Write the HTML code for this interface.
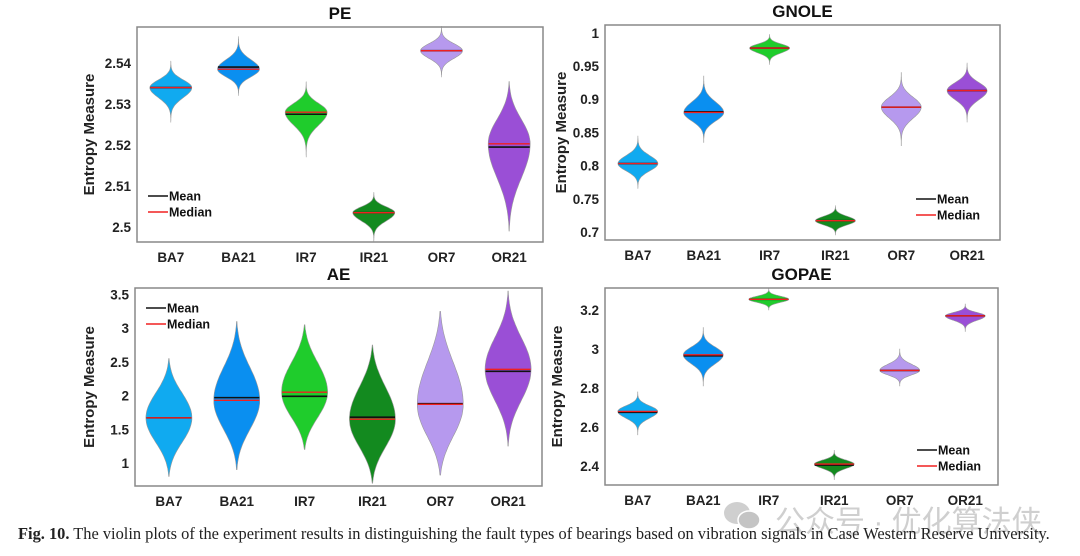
<!DOCTYPE html>
<html><head><meta charset="utf-8">
<style>
body{margin:0;background:#fff;width:1080px;height:556px;overflow:hidden;font-family:"Liberation Sans",sans-serif}
svg{position:absolute;left:0;top:0}
.cap{position:absolute;left:18px;top:524px;font-family:"Liberation Serif",serif;font-size:16.4px;color:#222;white-space:nowrap}
.wm{position:absolute;left:775px;top:497px;font-family:"Liberation Sans","Noto Sans CJK SC",sans-serif;font-size:30px;color:#cfcfcf;white-space:nowrap}
.wmi{position:absolute;left:722px;top:500px;width:40px;height:32px}
</style></head><body>
<svg id="chart" width="1080" height="556"></svg>
<svg class="wmi" viewBox="0 0 40 32"><ellipse cx="15" cy="13" rx="13" ry="11" fill="#cfcfcf"/><ellipse cx="27" cy="20" rx="11" ry="9" fill="#c4c4c4" stroke="#fff" stroke-width="1.5"/></svg>
<div class="wm">公众号 · 优化算法侠</div>
<div class="cap"><b>Fig. 10.</b> The violin plots of the experiment results in distinguishing the fault types of bearings based on vibration signals in Case Western Reserve University.</div>
<script>
const categories = ["BA7","BA21","IR7","IR21","OR7","OR21"];
const colors = ["#10aaf0","#0a8ff0","#1fcc2c","#138a1f","#b699ee","#9a4fd6"];
// PE
const peMedian = [2.534,2.5385,2.528,2.5035,2.543,2.5203];
const peMean   = [2.534,2.539,2.5275,2.5035,2.543,2.5195];
const peMin    = [2.5255,2.532,2.517,2.4965,2.5365,2.499];
const peMax    = [2.5405,2.5465,2.5355,2.5085,2.549,2.5355];
const peTicks  = [2.5,2.51,2.52,2.53,2.54];
// GNOLE
const gnMedian = [0.803,0.880,0.977,0.717,0.888,0.913];
const gnMean   = [0.803,0.881,0.977,0.717,0.888,0.913];
const gnMin    = [0.765,0.835,0.952,0.695,0.83,0.865];
const gnMax    = [0.845,0.935,0.998,0.740,0.94,0.955];
const gnTicks  = [0.7,0.75,0.8,0.85,0.9,0.95,1];
// AE
const aeMedian = [1.67,1.93,2.05,1.65,1.87,2.39];
const aeMean   = [1.67,1.97,1.99,1.68,1.88,2.36];
const aeMin    = [0.8,0.9,1.2,0.7,0.82,1.25];
const aeMax    = [2.55,3.1,3.05,2.75,3.25,3.55];
const aeTicks  = [1,1.5,2,2.5,3,3.5];
// GOPAE
const goMedian = [2.68,2.97,3.255,2.41,2.89,3.17];
const goMean   = [2.675,2.965,3.255,2.405,2.89,3.17];
const goMin    = [2.56,2.81,3.2,2.33,2.81,3.09];
const goMax    = [2.78,3.11,3.31,2.48,3.0,3.23];
const goTicks  = [2.4,2.6,2.8,3,3.2];

const NS="http://www.w3.org/2000/svg";
const svg=document.getElementById('chart');
function mk(tag,attrs,parent,text){const e=document.createElementNS(NS,tag);for(const k in attrs)e.setAttribute(k,attrs[k]);if(text!==undefined)e.textContent=text;(parent||svg).appendChild(e);return e;}

function panel(cfg){
  const g=mk('g',{});
  
  
  const {x0,x1,y0,y1,vmin,vmax}=cfg;
  const Y=v=>y1-(v-vmin)/(vmax-vmin)*(y1-y0);
  const X=i=>x0+(x1-x0)*(i+0.5)/categories.length;
  const t=mk('text',{x:(x0+x1)/2,y:y0-8,'text-anchor':'middle','font-size':17,'font-weight':'bold',fill:'#111'},g,cfg.title);
  
  
  const yt=mk('text',{transform:`translate(${cfg.ytx},${(y0+y1)/2}) rotate(-90)`,'text-anchor':'middle','font-size':15,'font-weight':'bold',fill:'#222'},g,'Entropy Measure');
  
  
  cfg.ticks.forEach(v=>{
    const tl=mk('text',{x:x0-6,y:Y(v)+5,'text-anchor':'end','font-size':13.5,'font-weight':'bold',fill:'#222'},g,String(v));
    
    
  });
  categories.forEach((c,i)=>{
    const cl=mk('text',{x:X(i),y:y1+20,'text-anchor':'middle','font-size':13.5,'font-weight':'bold',fill:'#222'},g,c);
    
    
    const med=cfg.median[i],mn=cfg.min[i],mx=cfg.max[i];
    const hw=cfg.hw, k=cfg.k[i];
    const up=mx-med, dn=med-mn;
    const right=[],left=[];
    const N=60;
    for(let j=0;j<=N;j++){
      const v=mn+(mx-mn)*j/N;
      const tt=v>=med?(v-med)/up:(med-v)/dn;
      const w=hw*Math.exp(-k*tt*tt)*(1-0.85*tt*tt*tt);
      right.push([X(i)+w,Y(v)]);left.push([X(i)-w,Y(v)]);
    }
    const pts=right.concat(left.reverse()).map(p=>p[0].toFixed(1)+','+p[1].toFixed(1)).join(' ');
    const vp=mk('polygon',{points:pts,fill:colors[i],stroke:'#999','stroke-width':0.6},g);
    
    
    const wm=hw*0.98;
    const ml=mk('line',{x1:X(i)-wm,x2:X(i)+wm,y1:Y(cfg.mean[i]),y2:Y(cfg.mean[i]),stroke:'#111','stroke-width':1.6},g);
    
    
    const dl=mk('line',{x1:X(i)-wm,x2:X(i)+wm,y1:Y(med),y2:Y(med),stroke:'#f02020','stroke-width':1.4},g);
    
    
  });
  const b=mk('rect',{x:x0,y:y0,width:x1-x0,height:y1-y0,fill:'none',stroke:'#888','stroke-width':1.5},g);
  
  
  const [lx,ly]=cfg.legend;
  const l1=mk('line',{x1:lx,x2:lx+20,y1:ly,y2:ly,stroke:'#111','stroke-width':1.6},g);
  
  
  const lt1=mk('text',{x:lx+21,y:ly+4.5,'font-size':12.5,'font-weight':'bold',fill:'#111'},g,'Mean');
  
  
  const l2=mk('line',{x1:lx,x2:lx+20,y1:ly+16,y2:ly+16,stroke:'#f02020','stroke-width':1.4},g);
  
  
  const lt2=mk('text',{x:lx+21,y:ly+20.5,'font-size':12.5,'font-weight':'bold',fill:'#111'},g,'Median');
  
  
}
const narrow=[6,6,6,6,6,6];
panel({name:'pe',title:'PE',x0:137,x1:543,y0:27,y1:242,ytx:94,vmin:2.5-15/4100,vmax:2.5+200/4100,ticks:peTicks,
  median:peMedian,mean:peMean,min:peMin,max:peMax,hw:21,k:[6,6,6,6,6,3.2],legend:[148,196]});
panel({name:'gnole',title:'GNOLE',x0:605,x1:1000,y0:25,y1:240,ytx:566,vmin:0.7-8/664,vmax:0.7+207/664,ticks:gnTicks,
  median:gnMedian,mean:gnMean,min:gnMin,max:gnMax,hw:20,k:narrow,legend:[916,199]});
panel({name:'ae',title:'AE',x0:135,x1:542,y0:288,y1:486,ytx:94,vmin:1-23/67.4,vmax:1+175/67.4,ticks:aeTicks,
  median:aeMedian,mean:aeMean,min:aeMin,max:aeMax,hw:23,k:[2.8,2.8,2.5,2.6,2.4,3],legend:[146,308]});
panel({name:'gopae',title:'GOPAE',x0:605,x1:998,y0:288,y1:485,ytx:562,vmin:2.4-19/195,vmax:2.4+178/195,ticks:goTicks,
  median:goMedian,mean:goMean,min:goMin,max:goMax,hw:20,k:narrow,legend:[917,450]});
</script>
</body></html>
